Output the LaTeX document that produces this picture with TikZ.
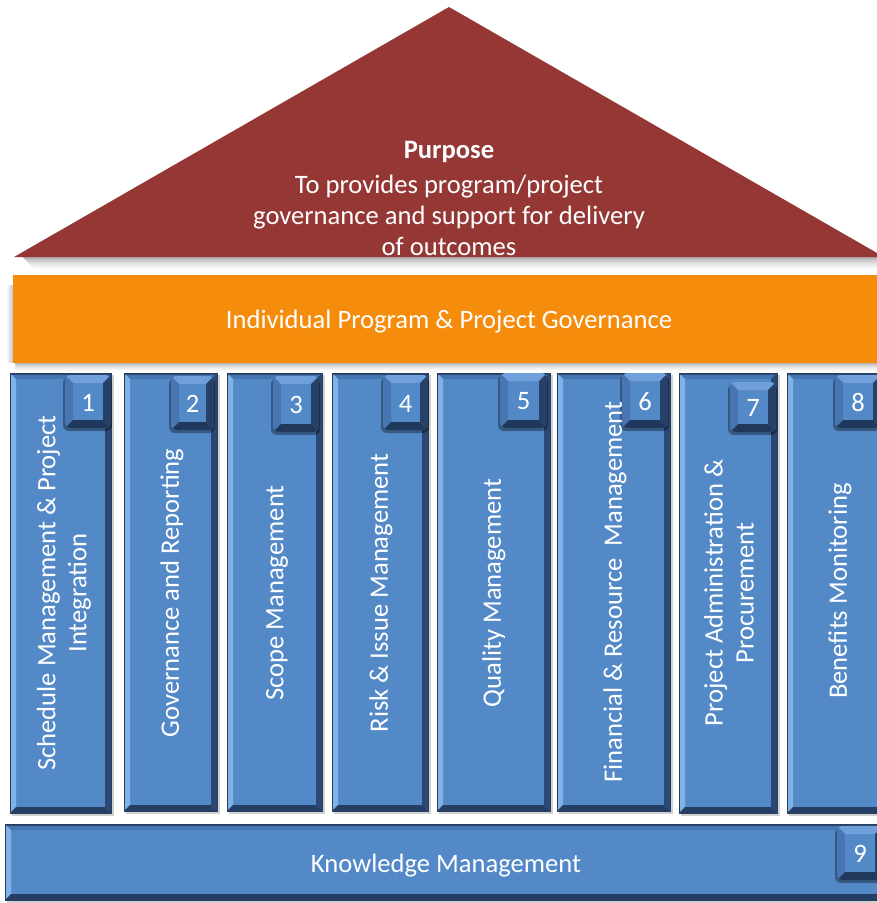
\documentclass[tikz,border=0pt]{standalone}
\usepackage{fontspec}
\setmainfont{Carlito}
\definecolor{roofc}{RGB}{149,55,53}
\definecolor{orangec}{RGB}{246,140,12}
\definecolor{bvbase}{RGB}{84,137,200}
\definecolor{bvtop}{RGB}{70,118,178}
\definecolor{bvleft}{RGB}{128,178,232}
\definecolor{bvright}{RGB}{42,72,115}
\definecolor{bvbot}{RGB}{36,62,102}
\definecolor{bvline}{RGB}{40,62,95}
\definecolor{nbtop}{RGB}{112,160,220}
\definecolor{nbleft}{RGB}{72,118,178}
\definecolor{nbright}{RGB}{38,64,104}
\definecolor{nbbot}{RGB}{32,56,92}
\tikzset{
  txt/.style={text=white,inner sep=0pt,font=\fontsize{26.6}{31}\selectfont},
  ptxt/.style={txt,rotate=90,align=center},
  numtxt/.style={txt},
}
% generic bevel: x1 y1 x2 y2 bevel top left right bottom
\newcommand\mybevel[9]{%
  \fill[bvbase] (#1,#2) rectangle (#3,#4);
  \fill[#6] (#1,#2) -- (#3,#2) -- ({#3-#5},{#2+#5}) -- ({#1+#5},{#2+#5}) -- cycle;
  \fill[#7] (#1,#2) -- ({#1+#5},{#2+#5}) -- ({#1+#5},{#4-#5}) -- (#1,#4) -- cycle;
  \fill[#8] (#3,#2) -- (#3,#4) -- ({#3-#5},{#4-#5}) -- ({#3-#5},{#2+#5}) -- cycle;
  \fill[#9] (#1,#4) -- (#3,#4) -- ({#3-#5},{#4-#5}) -- ({#1+#5},{#4-#5}) -- cycle;
}
\newcommand\pillar[4]{%
  \fill[black,opacity=.18] ({#1+2},{#2+2}) rectangle ({#3+3},{#4+3});
  \mybevel{#1}{#2}{#3}{#4}{6}{bvtop}{bvleft}{bvright}{bvbot}
  \fill[bvline,opacity=.8] (#1,#2) rectangle (#3,{#2+2});
  \draw[bvline,line width=0.8pt] (#1,#2) rectangle (#3,#4);
}
\newcommand\numbox[6]{%
  \fill[black,opacity=.35,rounded corners=6pt] ({#1-2},{#2+2}) rectangle ({#3+1},{#4+3});
  \begin{scope}
    \clip[rounded corners=6pt] (#1,#2) rectangle (#3,#4);
    \mybevel{#1}{#2}{#3}{#4}{8}{nbtop}{nbleft}{nbright}{nbbot}
  \end{scope}
  \node[numtxt] (#5) at ({(#1+#3)/2},{(#2+#4)/2+1}) {#6};
}
\begin{document}
\begin{tikzpicture}[x=1pt,y=-1pt]
\useasboundingbox (0,0) rectangle (877,903);
\clip (0,0) rectangle (877,903);
% roof shadow
\foreach \i in {0,...,15}{
  \fill[black!75,opacity={0.5*(1-\i/16)*(1-\i/16)}] ({22+\i},{256+\i}) rectangle (890,{257.2+\i});
}
% roof
\fill[roofc] (14,257) -- (449,7) -- (884,257) -- cycle;
\node[txt,align=center] (purpose) at (449,198)
  {\textbf{Purpose}\\[4pt]To provides program/project\\governance and support for delivery\\of outcomes};
% orange band shadow
\foreach \i in {0,...,10}{
  \fill[black!75,opacity={0.45*(1-\i/11)*(1-\i/11)}] (15,{362+\i}) rectangle (893,{363.2+\i});
}
\foreach \i in {0,...,5}{
  \fill[black,opacity={0.2*(1-\i/6)}] ({12-\i},285) rectangle ({13-\i},363);
}
\fill[orangec] (13,275) rectangle (893,363);
\node[txt] (band) at (449,322) {Individual Program \& Project Governance};
% pillars
\pillar{10}{373}{111}{813}
\pillar{124}{373}{217}{811}
\pillar{227}{373}{322}{811}
\pillar{332}{373}{428}{811}
\pillar{437}{373}{550}{811}
\pillar{557}{373}{670}{811}
\pillar{679}{373}{777}{813}
\pillar{787}{373}{893}{813}
% base
\pillar{5}{824}{893}{900}
% number boxes
\numbox{65}{375}{111}{428}{n1}{1}
\numbox{171}{376}{214}{430}{n2}{2}
\numbox{273}{376}{319}{432}{n3}{3}
\numbox{383}{375}{428}{430}{n4}{4}
\numbox{500}{373}{547}{428}{n5}{5}
\numbox{622}{373}{668}{428}{n6}{6}
\numbox{730}{382}{776}{432}{n7}{7}
\numbox{835}{375}{881}{428}{n8}{8}
\numbox{837}{826}{883}{880}{n9}{9}
% pillar texts
\node[ptxt] (t1) at (64,593) {Schedule Management \& Project\\Integration};
\node[ptxt] (t2) at (172,593) {Governance and Reporting};
\node[ptxt] (t3) at (277,593) {Scope Management};
\node[ptxt] (t4) at (381,593) {Risk \& Issue Management};
\node[ptxt] (t5) at (494,593) {Quality Management};
\node[ptxt] (t6) at (615,592) {Financial \& Resource \ Management};
\node[ptxt] (t7) at (729,593) {Project Administration \&\\Procurement};
\node[ptxt] (t8) at (840,591) {Benefits Monitoring};
\node[txt] (base) at (446,866) {Knowledge Management};
\end{tikzpicture}
\end{document}
